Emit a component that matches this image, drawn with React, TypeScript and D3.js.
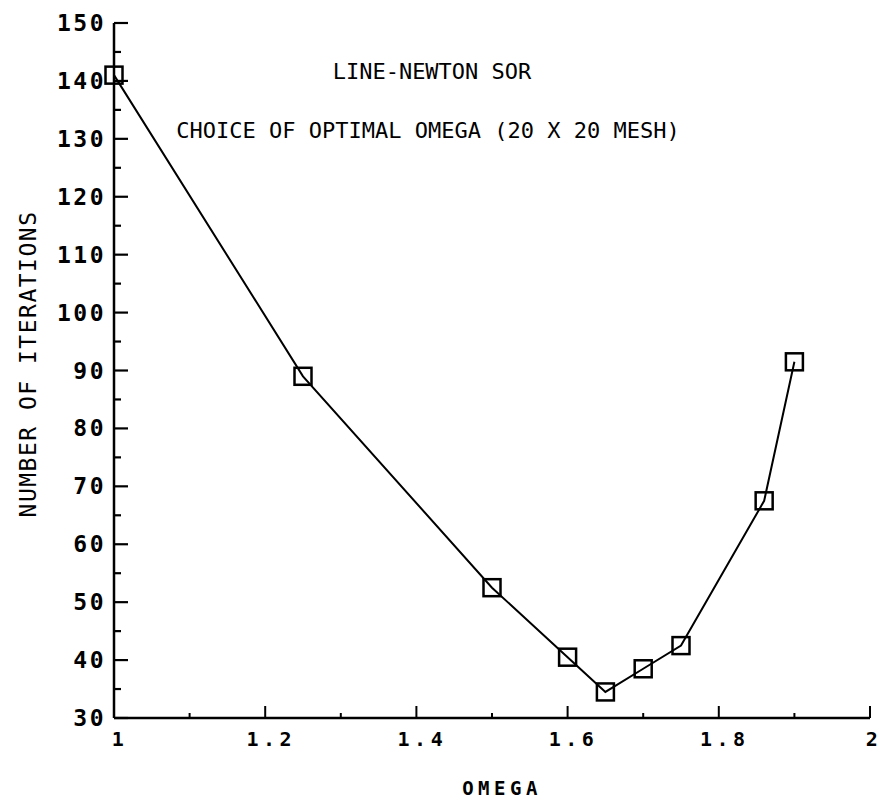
import React from "react";
import * as d3 from "d3";

const omega = [1.0, 1.25, 1.5, 1.6, 1.65, 1.7, 1.75, 1.86, 1.9];
const iterations = [141, 89, 52.5, 40.5, 34.5, 38.5, 42.5, 67.5, 91.5];
const xTicks = [1, 1.2, 1.4, 1.6, 1.8, 2];
const xTickLabels = ["1", "1.2", "1.4", "1.6", "1.8", "2"];
const yTicks = [30, 40, 50, 60, 70, 80, 90, 100, 110, 120, 130, 140, 150];
const titleLines = ["LINE-NEWTON SOR", "CHOICE OF OPTIMAL OMEGA (20 X 20 MESH)"];
const xLabel = "OMEGA";
const yLabel = "NUMBER OF ITERATIONS";

const W = 884;
const H = 800;
const FONT = "'DejaVu Sans Mono', 'Liberation Mono', monospace";

export default function App() {
  const x = d3.scaleLinear().domain([1, 2]).range([114, 870]);
  const y = d3.scaleLinear().domain([30, 150]).range([718, 23]);
  const line = d3
    .line<number>()
    .x((_, i) => x(omega[i]))
    .y((d) => y(d))
    .curve(d3.curveLinear);

  const xMinor = d3.range(11).map((i) => 1 + i * 0.1);
  const yMinor = d3.range(25).map((i) => 30 + i * 5);
  const ms = 17;

  return (
    <svg
      width={W}
      height={H}
      style={{ position: "absolute", left: 0, top: 0, background: "#fff" }}
    >
      <rect x={0} y={0} width={W} height={H} fill="#fff" />
      {/* axes */}
      <line x1={x(1)} y1={y(150)} x2={x(1)} y2={y(30)} stroke="#000" strokeWidth={2.5} />
      <line x1={x(1)} y1={y(30)} x2={x(2)} y2={y(30)} stroke="#000" strokeWidth={2.5} />
      {/* y ticks */}
      {yMinor.map((v) => {
        const major = v % 10 === 0;
        return (
          <line
            key={"ym" + v}
            x1={x(1)}
            x2={x(1) + (major ? 14 : 7)}
            y1={y(v)}
            y2={y(v)}
            stroke="#000"
            strokeWidth={2.2}
          />
        );
      })}
      {yTicks.map((v) => (
        <text
          key={"yt" + v}
          x={106}
          y={y(v) + 8}
          textAnchor="end"
          fontFamily={FONT}
          fontWeight="bold"
          fontSize={23}
          letterSpacing={2.5}
        >
          {v}
        </text>
      ))}
      {/* x ticks */}
      {xMinor.map((v, i) => {
        const major = i % 2 === 0;
        return (
          <line
            key={"xm" + i}
            x1={x(v)}
            x2={x(v)}
            y1={y(30)}
            y2={y(30) - (major ? 12 : 5)}
            stroke="#000"
            strokeWidth={2}
          />
        );
      })}
      {xTickLabels.map((lab, i) => (
        <text
          key={"xt" + i}
          x={Math.min(x(xTicks[i]) + 6, 874)}
          y={746}
          textAnchor="middle"
          fontFamily={FONT}
          fontWeight="bold"
          fontSize={20}
          letterSpacing={4.5}
        >
          {lab}
        </text>
      ))}
      {/* titles */}
      <text x={432} y={79} textAnchor="middle" fontFamily={FONT} fontSize={22}>
        {titleLines[0]}
      </text>
      <text x={428} y={138} textAnchor="middle" fontFamily={FONT} fontSize={22}>
        {titleLines[1]}
      </text>
      {/* axis labels */}
      <text
        x={502}
        y={795}
        textAnchor="middle"
        fontFamily={FONT}
        fontWeight="bold"
        fontSize={19}
        letterSpacing={4.5}
      >
        {xLabel}
      </text>
      <text
        transform={`translate(36,${364}) rotate(-90)`}
        textAnchor="middle"
        fontFamily={FONT}
        fontSize={23}
        letterSpacing={1.5}
      >
        {yLabel}
      </text>
      {/* data */}
      <path d={line(iterations) || ""} fill="none" stroke="#000" strokeWidth={2} />
      {iterations.map((v, i) => (
        <rect
          key={"m" + i}
          x={x(omega[i]) - ms / 2}
          y={y(v) - ms / 2}
          width={ms}
          height={ms}
          fill="none"
          stroke="#000"
          strokeWidth={2.5}
        />
      ))}
    </svg>
  );
}
